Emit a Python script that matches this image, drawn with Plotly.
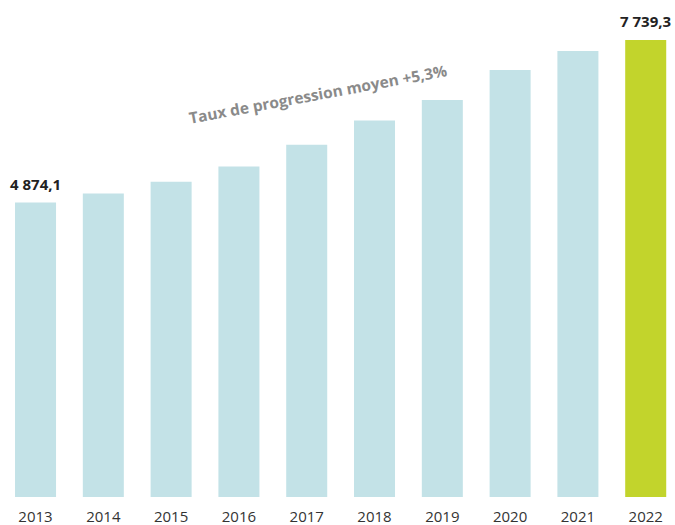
import plotly.graph_objects as go

years = ["2013", "2014", "2015", "2016", "2017", "2018", "2019", "2020", "2021", "2022"]
values = [4874.1, 5033, 5239, 5508, 5891, 6318, 6683, 7211, 7546, 7739.3]
labels = {"2013": "4 874,1", "2022": "7 739,3"}
note = "Taux de progression moyen +5,3%"

base_val = -316
colors = ["#c3e2e7"] * (len(years) - 1) + ["#c2d42c"]

fig = go.Figure(go.Bar(
    x=years, y=[v - base_val for v in values], base=base_val,
    marker=dict(color=colors, line=dict(width=0)),
    width=0.605, hoverinfo="skip",
))

for yr, txt in labels.items():
    i = years.index(yr)
    fig.add_annotation(x=i, y=values[i], text="<b>%s</b>" % txt, showarrow=False,
                       xanchor="center", yanchor="bottom", yshift=7,
                       font=dict(family="Open Sans", size=15, color="#222222"))

fig.add_annotation(xref="paper", yref="paper", x=0.471, y=0.81, text="<b>%s</b>" % note,
                   showarrow=False, textangle=-10.5, xanchor="center", yanchor="middle",
                   font=dict(family="Open Sans", size=15.5, color="#8a8a8a"))

fig.update_layout(
    width=675, height=525,
    margin=dict(l=0, r=0, t=0, b=27.5),
    paper_bgcolor="white", plot_bgcolor="white",
    showlegend=False,
    xaxis=dict(type="category", range=[-0.524, 9.432], showgrid=False, zeroline=False, showline=False,
               ticks="outside", ticklen=6, tickcolor="rgba(0,0,0,0)",
               tickfont=dict(family="Open Sans", size=15, color="#333333")),
    yaxis=dict(range=[base_val, 8443.6], visible=False, showgrid=False, zeroline=False),
)

fig.write_html("out.html")
